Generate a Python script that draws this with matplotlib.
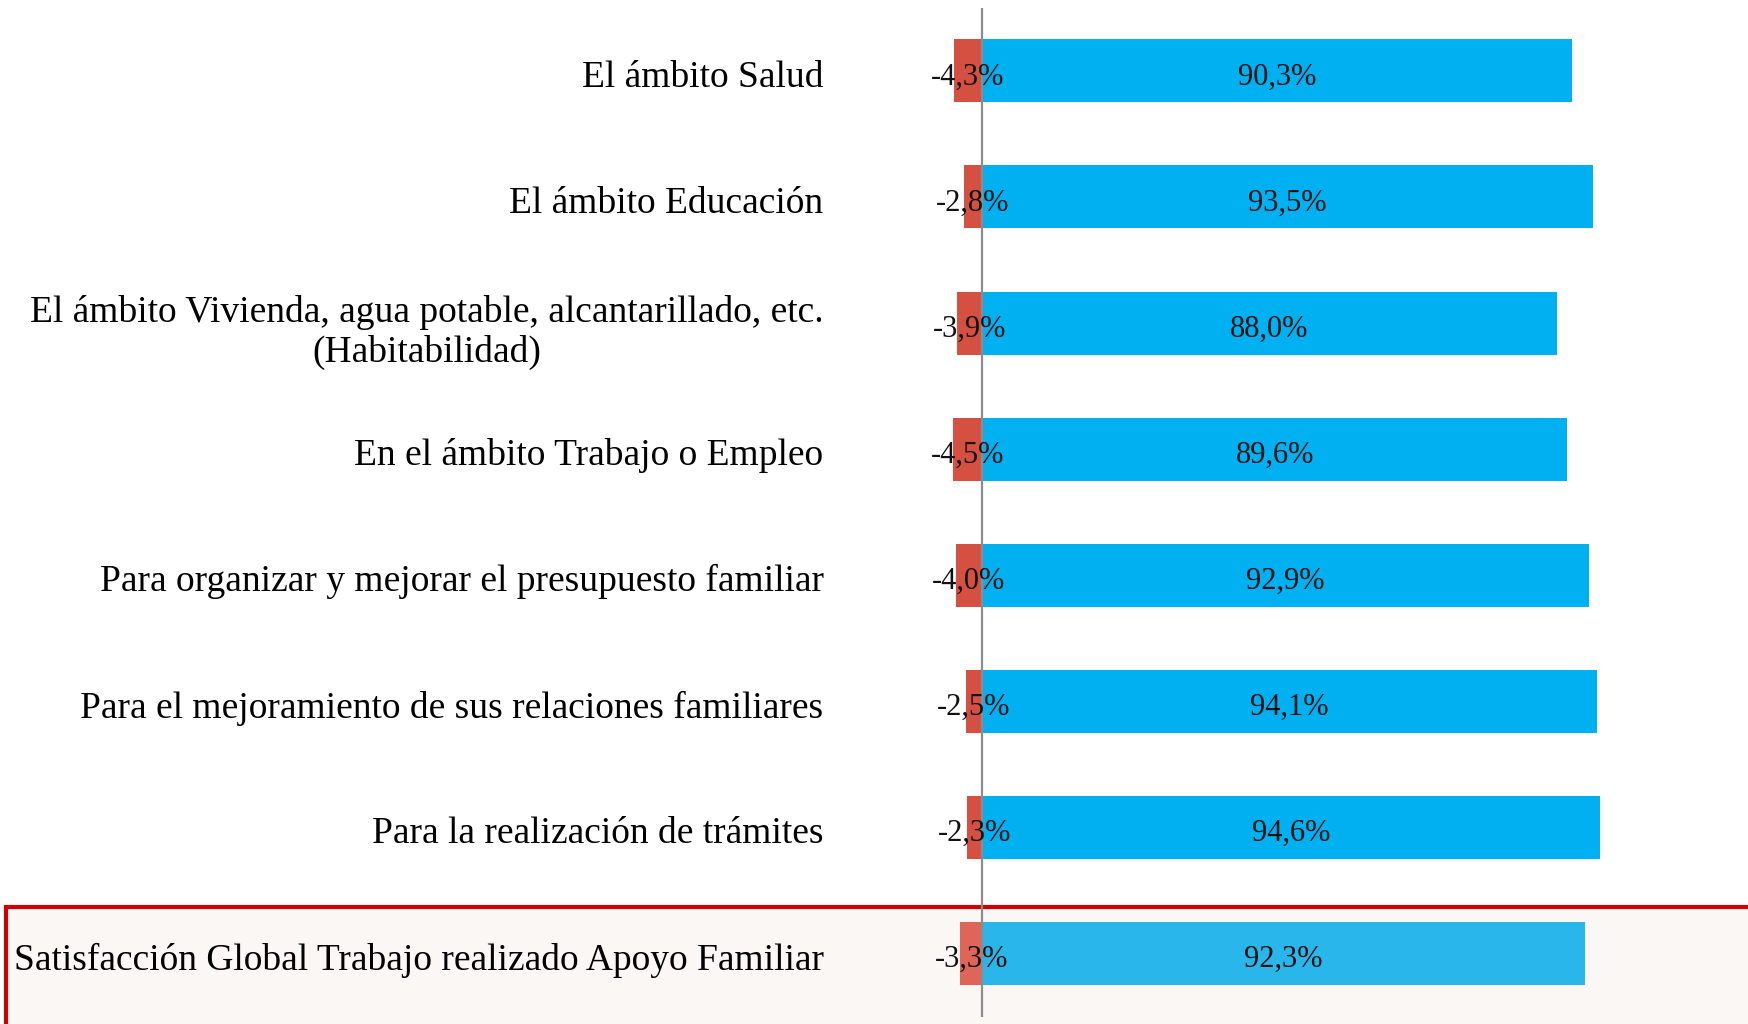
import matplotlib
matplotlib.use('Agg')
import matplotlib.pyplot as plt
from matplotlib.patches import Rectangle

categories = [
    'El ámbito Salud',
    'El ámbito Educación',
    'El ámbito Vivienda, agua potable, alcantarillado, etc.\n(Habitabilidad)',
    'En el ámbito Trabajo o Empleo',
    'Para organizar y mejorar el presupuesto familiar',
    'Para el mejoramiento de sus relaciones familiares',
    'Para la realización de trámites',
    'Satisfacción Global Trabajo realizado Apoyo Familiar',
]
satisfied = [90.3, 93.5, 88.0, 89.6, 92.9, 94.1, 94.6, 92.3]
dissatisfied = [-4.3, -2.8, -3.9, -4.5, -4.0, -2.5, -2.3, -3.3]


def pct(v):
    return '{:.1f}%'.format(v).replace('.', ',')


plt.rcParams['font.family'] = ['Liberation Serif', 'DejaVu Serif']

fig = plt.figure(figsize=(17.48, 10.24), dpi=100)

# highlight box behind the last row (global satisfaction)
box = Rectangle((6 / 1748, -0.02), 1.05, 1 - 907 / 1024 + 0.02,
                transform=fig.transFigure, facecolor='#FBF7F5',
                edgecolor='#D00000', linewidth=3, zorder=-1)
fig.patches.append(box)

ax = fig.add_axes([900 / 1748, 0.0071, 1 - 900 / 1748, 0.9853])
ax.patch.set_visible(False)

n = len(categories)
ypos = list(range(n))
blue = ['#00B0F0'] * (n - 1) + ['#29B6EA']
red = ['#D65042'] * (n - 1) + ['#DE6558']

ax.barh(ypos, satisfied, height=0.5, color=blue, zorder=2)
ax.barh(ypos, dissatisfied, height=0.5, color=red, zorder=2)
ax.axvline(0, color='#8C8C8C', linewidth=1.6, zorder=3)

for i in ypos:
    ax.text(satisfied[i] / 2, i + 0.02, pct(satisfied[i]), ha='center',
            va='center_baseline', fontsize=22, color='#111111', zorder=4)
    ax.text(dissatisfied[i] / 2, i + 0.02, pct(dissatisfied[i]), ha='center',
            va='center_baseline', fontsize=22, color='#111111', zorder=4)

ax.set_yticks([y + 0.02 for y in ypos])
ax.set_yticklabels(categories, fontsize=27)
ax.get_yticklabels()[2].set_multialignment('center')
ax.tick_params(axis='y', length=0, pad=55)
ax.set_xticks([])
ax.set_ylim(n - 0.5, -0.5)
ax.set_xlim(-12.56, 117.3)
for s in ax.spines.values():
    s.set_visible(False)

plt.savefig('out.png', dpi=100)
